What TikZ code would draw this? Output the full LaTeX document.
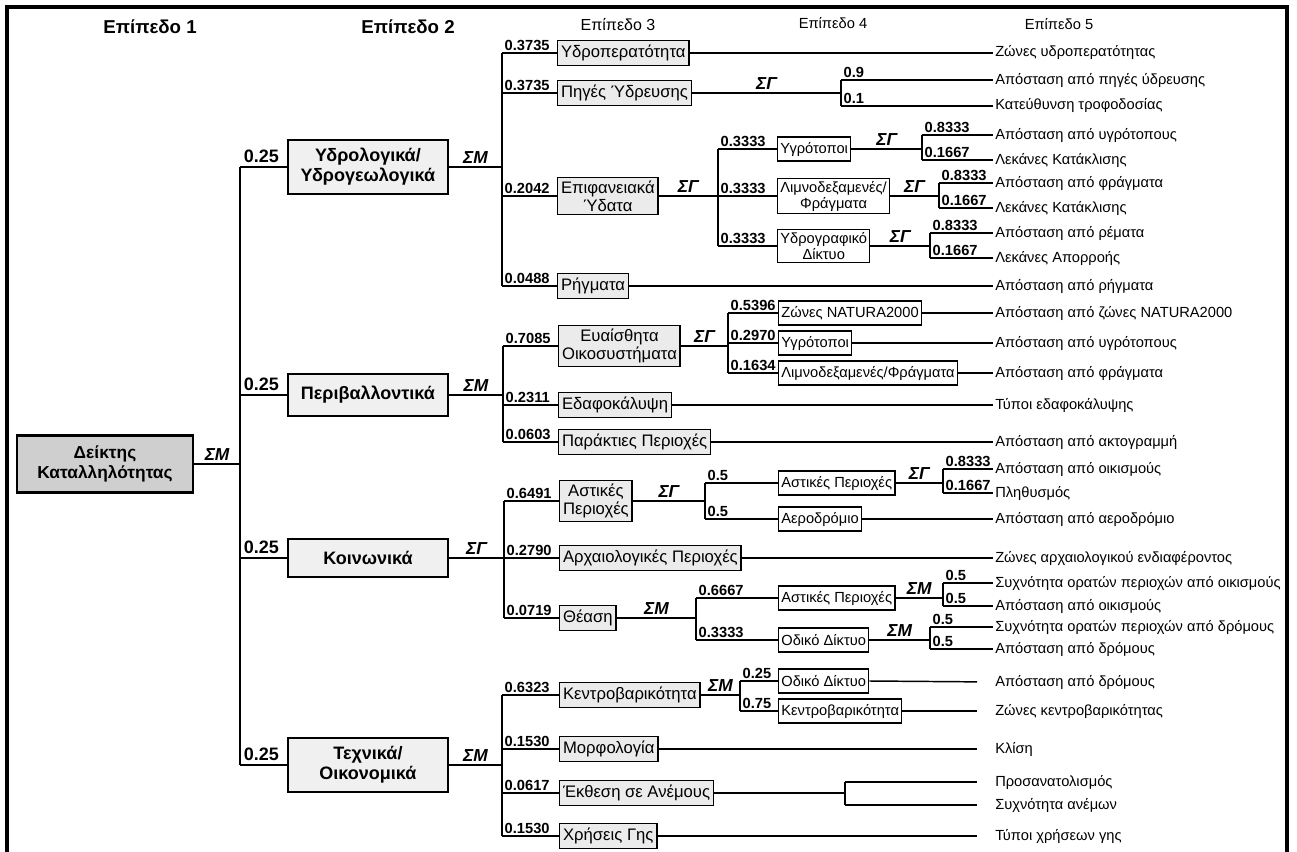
\documentclass[tikz,border=0pt]{standalone}
\usepackage{fontspec}
\setmainfont{Liberation Sans}
\usetikzlibrary{positioning}
\tikzstyle{lvlone} = [rectangle, draw=black, line width=1.8pt, fill=gray!38, minimum width=132pt, minimum height=43pt, align=center, font=\bfseries\fontsize{13}{14.5}\selectfont]
\tikzstyle{lvltwo} = [rectangle, draw=black, line width=1.4pt, fill=gray!12, anchor=west, minimum width=120pt, align=center, font=\bfseries\fontsize{13.5}{15}\selectfont]
\tikzstyle{lvlthree} = [rectangle, draw=black, line width=1.1pt, fill=gray!16, anchor=west, minimum height=19pt, inner sep=2.5pt, align=center, font=\fontsize{12.5}{13.5}\selectfont]
\tikzstyle{lvlfour} = [rectangle, draw=black, line width=1.1pt, fill=white, anchor=west, minimum height=18pt, inner sep=2pt, align=center, font=\fontsize{11}{12}\selectfont]
\tikzstyle{leaf} = [anchor=west, inner sep=1.5pt, font=\fontsize{11}{12}\selectfont]
\tikzstyle{hdbig} = [font=\bfseries\fontsize{14}{16}\selectfont]
\tikzstyle{hdsmall} = [font=\fontsize{11}{13}\selectfont]
\tikzstyle{wt} = [pos=0, anchor=south west, inner sep=1.5pt, font=\bfseries\fontsize{11}{12}\selectfont]
\tikzstyle{wtbig} = [pos=0, anchor=south west, inner sep=2pt, font=\bfseries\fontsize{13.5}{15}\selectfont]
\tikzstyle{agg} = [midway, above, inner sep=2pt, font=\bfseries\itshape\fontsize{13}{14}\selectfont]
\tikzstyle{link} = [line width=1.1pt]
\tikzstyle{trunk} = [line width=1.8pt]
\tikzstyle{frame} = [line width=2.3pt]

\begin{document}
\begin{tikzpicture}[x=0.75pt, y=-0.75pt]
\useasboundingbox (0,0) rectangle (1297,852);
\draw[frame] (7,852) -- (7,7) -- (1287,7) -- (1287,852);

% headers
\node (h1) [hdbig] at (150,27) {Επίπεδο 1};
\node (h2) [hdbig] at (408,27) {Επίπεδο 2};
\node (h3) [hdsmall, font=\fontsize{12}{14}\selectfont] at (618,25) {Επίπεδο 3};
\node (h4) [hdsmall] at (833,23) {Επίπεδο 4};
\node (h5) [hdsmall] at (1059,24) {Επίπεδο 5};

% level 1 and 2
\node (root) [lvlone] at (105,464) {Δείκτης\\Καταλληλότητας};
\coordinate (tr0) at (240,464);
\node (hyd) [lvltwo, minimum height=40pt] at (287,167) {Υδρολογικά/\\Υδρογεωλογικά};
\node (env) [lvltwo, minimum height=31pt] at (287,395) {Περιβαλλοντικά};
\node (soc) [lvltwo, minimum height=28pt] at (287,558) {Κοινωνικά};
\node (tec) [lvltwo, minimum height=41pt] at (287,765) {Τεχνικά/\\Οικονομικά};

\draw[trunk] (root) -- node[agg]{ΣΜ} (tr0);
\draw[trunk] (tr0 |- hyd.west) -- (tr0 |- tec.west);
\foreach \n in {hyd,env,soc,tec}
  \draw[trunk] (tr0 |- \n.west) -- node[wtbig]{0.25} (\n.west);

\coordinate (tr1) at (502,167);
\coordinate (tr2) at (503,395);
\coordinate (tr3) at (504,558);
\coordinate (tr4) at (502,765);
\draw[link] (hyd.east) -- node[agg]{ΣΜ} (tr1);
\draw[link] (env.east) -- node[agg]{ΣΜ} (tr2);
\draw[link] (soc.east) -- node[agg]{ΣΓ} (tr3);
\draw[link] (tec.east) -- node[agg]{ΣΜ} (tr4);

% Υδρολογικά / Υδρογεωλογικά
\node (hperm) [lvlthree] at (557,53) {Υδροπερατότητα};
\node (hsrc) [lvlthree] at (557,93) {Πηγές Ύδρευσης};
\node (hsurf) [lvlthree] at (557,196) {Επιφανειακά\\Ύδατα};
\node (hfault) [lvlthree] at (557,286) {Ρήγματα};
\draw[link] (tr1 |- hperm.west) -- (tr1 |- hfault.west);
\draw[link] (tr1 |- hperm.west) -- node[wt]{0.3735} (hperm.west);
\draw[link] (tr1 |- hsrc.west) -- node[wt]{0.3735} (hsrc.west);
\draw[link] (tr1 |- hsurf.west) -- node[wt]{0.2042} (hsurf.west);
\draw[link] (tr1 |- hfault.west) -- node[wt]{0.0488} (hfault.west);

\node (lperm) [leaf] at (993,53) {Ζώνες υδροπερατότητας};
\draw[link] (hperm.east) -- (lperm.west);

\coordinate (tsrc) at (841,93);
\node (lsrcd) [leaf] at (993,80) {Απόσταση από πηγές ύδρευσης};
\node (lsrcf) [leaf] at (993,106) {Κατεύθυνση τροφοδοσίας};
\draw[link] (hsrc.east) -- node[agg]{ΣΓ} (tsrc);
\draw[link] (tsrc |- lsrcd.west) -- (tsrc |- lsrcf.west);
\draw[link] (tsrc |- lsrcd.west) -- node[wt]{0.9} (lsrcd.west);
\draw[link] (tsrc |- lsrcf.west) -- node[wt]{0.1} (lsrcf.west);

\coordinate (tsurf) at (718,196);
\node (swet) [lvlfour] at (777,149) {Υγρότοποι};
\node (sres) [lvlfour] at (777,196) {Λιμνοδεξαμενές/\\Φράγματα};
\node (sriv) [lvlfour] at (777,246) {Υδρογραφικό\\Δίκτυο};
\draw[link] (hsurf.east) -- node[agg]{ΣΓ} (tsurf);
\draw[link] (tsurf |- swet.west) -- (tsurf |- sriv.west);
\draw[link] (tsurf |- swet.west) -- node[wt]{0.3333} (swet.west);
\draw[link] (tsurf |- sres.west) -- node[wt]{0.3333} (sres.west);
\draw[link] (tsurf |- sriv.west) -- node[wt]{0.3333} (sriv.west);

\coordinate (twet) at (922,149);
\node (lwetd) [leaf] at (993,135) {Απόσταση από υγρότοπους};
\node (lwetf) [leaf] at (993,160) {Λεκάνες Κατάκλισης};
\draw[link] (swet.east) -- node[agg]{ΣΓ} (twet);
\draw[link] (twet |- lwetd.west) -- (twet |- lwetf.west);
\draw[link] (twet |- lwetd.west) -- node[wt]{0.8333} (lwetd.west);
\draw[link] (twet |- lwetf.west) -- node[wt]{0.1667} (lwetf.west);

\coordinate (tres) at (939,196);
\node (lresd) [leaf] at (993,183) {Απόσταση από φράγματα};
\node (lresf) [leaf] at (993,208) {Λεκάνες Κατάκλισης};
\draw[link] (sres.east) -- node[agg]{ΣΓ} (tres);
\draw[link] (tres |- lresd.west) -- (tres |- lresf.west);
\draw[link] (tres |- lresd.west) -- node[wt]{0.8333} (lresd.west);
\draw[link] (tres |- lresf.west) -- node[wt]{0.1667} (lresf.west);

\coordinate (triv) at (930,246);
\node (lrivd) [leaf] at (993,233) {Απόσταση από ρέματα};
\node (lrivb) [leaf] at (993,258) {Λεκάνες Απορροής};
\draw[link] (sriv.east) -- node[agg]{ΣΓ} (triv);
\draw[link] (triv |- lrivd.west) -- (triv |- lrivb.west);
\draw[link] (triv |- lrivd.west) -- node[wt]{0.8333} (lrivd.west);
\draw[link] (triv |- lrivb.west) -- node[wt]{0.1667} (lrivb.west);

\node (lfault) [leaf] at (993,286) {Απόσταση από ρήγματα};
\draw[link] (hfault.east) -- (lfault.west);

% Περιβαλλοντικά
\node (esens) [lvlthree] at (558,346) {Ευαίσθητα\\Οικοσυστήματα};
\node (ecov) [lvlthree] at (558,405) {Εδαφοκάλυψη};
\node (ecoast) [lvlthree] at (558,442) {Παράκτιες Περιοχές};
\draw[link] (tr2 |- esens.west) -- (tr2 |- ecoast.west);
\draw[link] (tr2 |- esens.west) -- node[wt]{0.7085} (esens.west);
\draw[link] (tr2 |- ecov.west) -- node[wt]{0.2311} (ecov.west);
\draw[link] (tr2 |- ecoast.west) -- node[wt]{0.0603} (ecoast.west);

\coordinate (tsens) at (728,346);
\node (enat) [lvlfour] at (778,313) {Ζώνες NATURA2000};
\node (ewet) [lvlfour] at (778,343) {Υγρότοποι};
\node (eres) [lvlfour] at (778,373) {Λιμνοδεξαμενές/Φράγματα};
\draw[link] (esens.east) -- node[agg]{ΣΓ} (tsens);
\draw[link] (tsens |- enat.west) -- (tsens |- eres.west);
\draw[link] (tsens |- enat.west) -- node[wt]{0.5396} (enat.west);
\draw[link] (tsens |- ewet.west) -- node[wt]{0.2970} (ewet.west);
\draw[link] (tsens |- eres.west) -- node[wt]{0.1634} (eres.west);

\node (lnat) [leaf] at (993,313) {Απόσταση από ζώνες NATURA2000};
\node (lewet) [leaf] at (993,343) {Απόσταση από υγρότοπους};
\node (leres) [leaf] at (993,373) {Απόσταση από φράγματα};
\node (lcov) [leaf] at (993,405) {Τύποι εδαφοκάλυψης};
\node (lcoast) [leaf] at (993,442) {Απόσταση από ακτογραμμή};
\draw[link] (enat.east) -- (lnat.west);
\draw[link] (ewet.east) -- (lewet.west);
\draw[link] (eres.east) -- (leres.west);
\draw[link] (ecov.east) -- (lcov.west);
\draw[link] (ecoast.east) -- (lcoast.west);

% Κοινωνικά
\node (surb) [lvlthree] at (559,501) {Αστικές\\Περιοχές};
\node (sarch) [lvlthree] at (559,558) {Αρχαιολογικές Περιοχές};
\node (sview) [lvlthree] at (559,618) {Θέαση};
\draw[link] (tr3 |- surb.west) -- (tr3 |- sview.west);
\draw[link] (tr3 |- surb.west) -- node[wt]{0.6491} (surb.west);
\draw[link] (tr3 |- sarch.west) -- node[wt]{0.2790} (sarch.west);
\draw[link] (tr3 |- sview.west) -- node[wt]{0.0719} (sview.west);

\coordinate (turb) at (705,501);
\node (uurb) [lvlfour] at (778,483) {Αστικές Περιοχές};
\node (uair) [lvlfour] at (778,519) {Αεροδρόμιο};
\draw[link] (surb.east) -- node[agg]{ΣΓ} (turb);
\draw[link] (turb |- uurb.west) -- (turb |- uair.west);
\draw[link] (turb |- uurb.west) -- node[wt]{0.5} (uurb.west);
\draw[link] (turb |- uair.west) -- node[wt]{0.5} (uair.west);

\coordinate (tuu) at (943,483);
\node (lset) [leaf] at (993,469) {Απόσταση από οικισμούς};
\node (lpop) [leaf] at (993,493) {Πληθυσμός};
\draw[link] (uurb.east) -- node[agg]{ΣΓ} (tuu);
\draw[link] (tuu |- lset.west) -- (tuu |- lpop.west);
\draw[link] (tuu |- lset.west) -- node[wt]{0.8333} (lset.west);
\draw[link] (tuu |- lpop.west) -- node[wt]{0.1667} (lpop.west);

\node (lair) [leaf] at (993,519) {Απόσταση από αεροδρόμιο};
\draw[link] (uair.east) -- (lair.west);
\node (larch) [leaf] at (993,558) {Ζώνες αρχαιολογικού ενδιαφέροντος};
\draw[link] (sarch.east) -- (larch.west);

\coordinate (tview) at (696,618);
\node (vurb) [lvlfour] at (778,598) {Αστικές Περιοχές};
\node (vroad) [lvlfour] at (778,640) {Οδικό Δίκτυο};
\draw[link] (sview.east) -- node[agg]{ΣΜ} (tview);
\draw[link] (tview |- vurb.west) -- (tview |- vroad.west);
\draw[link] (tview |- vurb.west) -- node[wt]{0.6667} (vurb.west);
\draw[link] (tview |- vroad.west) -- node[wt]{0.3333} (vroad.west);

\coordinate (tvu) at (943,598);
\node (lvfreq) [leaf] at (993,583) {Συχνότητα ορατών περιοχών από οικισμούς};
\node (lvdist) [leaf] at (993,606) {Απόσταση από οικισμούς};
\draw[link] (vurb.east) -- node[agg]{ΣΜ} (tvu);
\draw[link] (tvu |- lvfreq.west) -- (tvu |- lvdist.west);
\draw[link] (tvu |- lvfreq.west) -- node[wt]{0.5} (lvfreq.west);
\draw[link] (tvu |- lvdist.west) -- node[wt]{0.5} (lvdist.west);

\coordinate (tvr) at (930,640);
\node (lrfreq) [leaf] at (993,627) {Συχνότητα ορατών περιοχών από δρόμους};
\node (lrdist) [leaf] at (993,649) {Απόσταση από δρόμους};
\draw[link] (vroad.east) -- node[agg]{ΣΜ} (tvr);
\draw[link] (tvr |- lrfreq.west) -- (tvr |- lrdist.west);
\draw[link] (tvr |- lrfreq.west) -- node[wt]{0.5} (lrfreq.west);
\draw[link] (tvr |- lrdist.west) -- node[wt]{0.5} (lrdist.west);

% Τεχνικά / Οικονομικά
\node (tcen) [lvlthree] at (559,695) {Κεντροβαρικότητα};
\node (tmor) [lvlthree] at (559,749) {Μορφολογία};
\node (twind) [lvlthree] at (559,793) {Έκθεση σε Ανέμους};
\node (tuse) [lvlthree] at (559,836) {Χρήσεις Γης};
\draw[link] (tr4 |- tcen.west) -- (tr4 |- tuse.west);
\draw[link] (tr4 |- tcen.west) -- node[wt]{0.6323} (tcen.west);
\draw[link] (tr4 |- tmor.west) -- node[wt]{0.1530} (tmor.west);
\draw[link] (tr4 |- twind.west) -- node[wt]{0.0617} (twind.west);
\draw[link] (tr4 |- tuse.west) -- node[wt]{0.1530} (tuse.west);

\coordinate (tcc) at (740,695);
\node (croad) [lvlfour] at (778,681) {Οδικό Δίκτυο};
\node (ccen) [lvlfour] at (778,711) {Κεντροβαρικότητα};
\draw[link] (tcen.east) -- node[agg]{ΣΜ} (tcc);
\draw[link] (tcc |- croad.west) -- (tcc |- ccen.west);
\draw[link] (tcc |- croad.west) -- node[wt]{0.25} (croad.west);
\draw[link] (tcc |- ccen.west) -- node[wt]{0.75} (ccen.west);

\node (lcroad) [leaf] at (993,682) {Απόσταση από δρόμους};
\node (lccen) [leaf] at (993,711) {Ζώνες κεντροβαρικότητας};
\node (lslope) [leaf] at (993,749) {Κλίση};
\node (laspect) [leaf] at (993,782) {Προσανατολισμός};
\node (lwind) [leaf] at (993,805) {Συχνότητα ανέμων};
\node (luse) [leaf] at (993,836) {Τύποι χρήσεων γης};
\draw[link, shorten >=12pt] (croad.east) -- (lcroad.west);
\draw[link, shorten >=12pt] (ccen.east) -- (lccen.west);
\draw[link, shorten >=12pt] (tmor.east) -- (lslope.west);
\coordinate (twd) at (845,793);
\draw[link] (twind.east) -- (twd);
\draw[link] (twd |- laspect.west) -- (twd |- lwind.west);
\draw[link, shorten >=12pt] (twd |- laspect.west) -- (laspect.west);
\draw[link, shorten >=12pt] (twd |- lwind.west) -- (lwind.west);
\draw[link, shorten >=12pt] (tuse.east) -- (luse.west);
\end{tikzpicture}
\end{document}
